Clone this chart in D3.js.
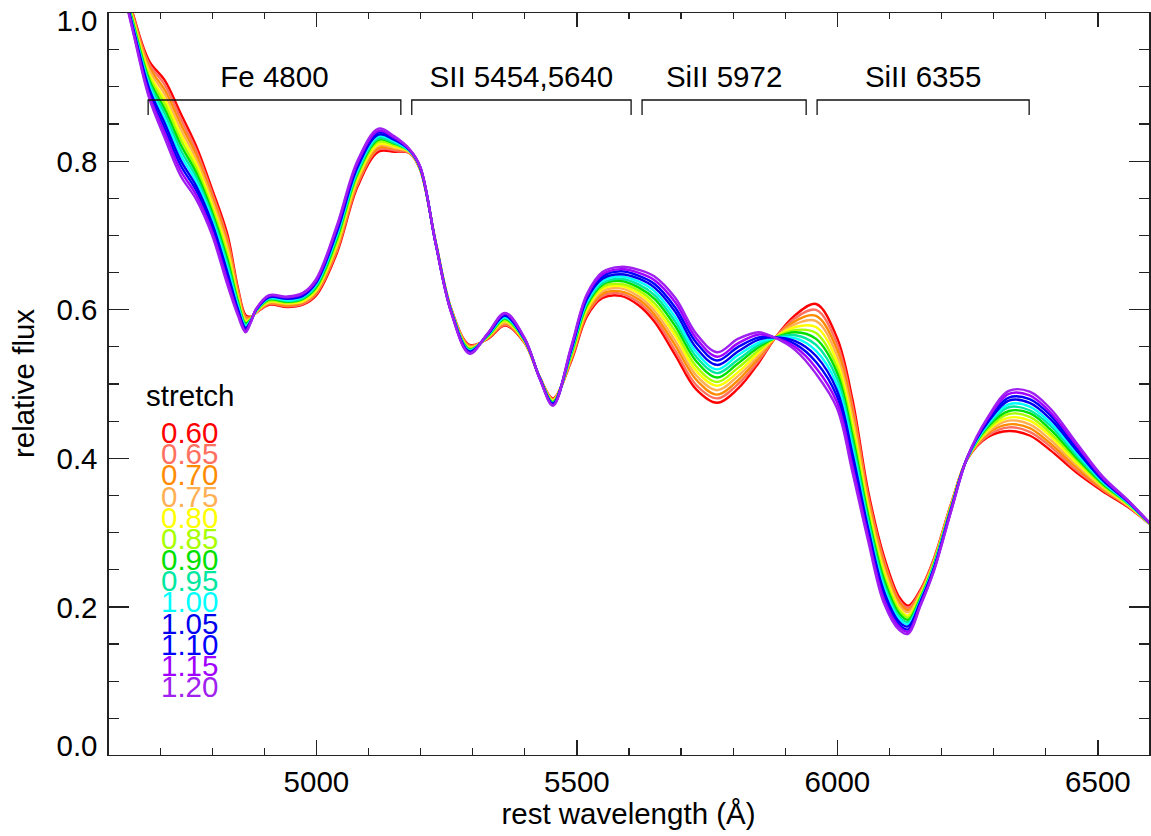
<!doctype html>
<html lang="en">
  <head>
    <meta charset="UTF-8" />
    <title>Stretched template spectra</title>
    <script src="https://d3js.org/d3.v7.min.js"></script>
    <style>
      body {
        margin: 0;
        padding: 0;
        background: #fff;
      }
      svg text {
        font-family: 'Liberation Sans', Arial, Helvetica, sans-serif;
        font-size: 29.5px;
        fill: #000;
      }
      .axis path,
      .axis line {
        fill: none;
        stroke: #222;
        stroke-width: 1.2px;
        shape-rendering: crispEdges;
      }
      .spec {
        fill: none;
        stroke-width: 2.4px;
      }
      .bracket {
        fill: none;
        stroke: #111;
        stroke-width: 1.3px;
      }
    </style>
  </head>
  <body>
    <svg id="chart" width="1151" height="836"></svg>

    <script>
      // rest wavelength grid (Angstrom)
      const wavelength = [4620, 4650, 4680, 4710, 4740, 4770, 4800, 4830, 4850, 4865, 4875,
        4885, 4910, 4945, 4975, 5000, 5040, 5080, 5120, 5150, 5180,
        5200, 5230, 5260, 5295, 5330, 5363, 5400, 5430, 5455, 5490,
        5520, 5550, 5585, 5620, 5650, 5690, 5730, 5770, 5810, 5850,
        5880, 5920, 5960, 6000, 6030, 6060, 6090, 6120, 6137, 6160,
        6185, 6220, 6250, 6290, 6330, 6370, 6410, 6460, 6510, 6560, 6610];

      // relative flux, one array per stretch value
      const flux060 = [1.075,.995,.934,.908,.864,.820,.763,.701,.630,.592,.590,.595,.606,.603,.606,.618,.675,.765,.812,.812,.810,.788,.690,.600,.552,.560,.578,.555,.508,.480,.530,.590,.615,.618,.605,.583,.538,.492,.474,.493,.528,.560,.592,.607,.562,.478,.355,.268,.212,.201,.222,.262,.340,.398,.428,.436,.430,.410,.380,.355,.333,.305];
      const flux065 = [1.074,.993,.930,.902,.857,.814,.758,.695,.627,.590,.589,.595,.607,.604,.607,.620,.678,.768,.815,.814,.810,.788,.690,.600,.551,.561,.579,.556,.508,.479,.532,.593,.618,.621,.609,.588,.544,.498,.480,.499,.531,.560,.588,.599,.554,.470,.349,.263,.208,.198,.220,.261,.339,.398,.430,.441,.435,.415,.383,.357,.334,.305];
      const flux070 = [1.073,.991,.926,.895,.850,.808,.753,.690,.624,.588,.589,.596,.608,.605,.609,.622,.681,.771,.817,.816,.811,.789,.690,.599,.550,.561,.581,.556,.508,.478,.533,.595,.621,.624,.613,.593,.551,.505,.485,.504,.535,.560,.584,.591,.546,.462,.344,.258,.205,.195,.218,.259,.338,.398,.433,.445,.440,.419,.387,.358,.335,.305];
      const flux075 = [1.071,.989,.922,.889,.843,.802,.748,.684,.620,.586,.588,.596,.609,.607,.610,.624,.684,.774,.820,.817,.811,.789,.690,.599,.549,.562,.582,.557,.508,.478,.535,.598,.624,.628,.617,.598,.557,.511,.491,.510,.538,.561,.580,.584,.538,.454,.338,.252,.201,.192,.217,.258,.338,.399,.435,.450,.445,.424,.390,.360,.335,.305];
      const flux080 = [1.070,.987,.917,.882,.836,.796,.742,.678,.617,.584,.587,.597,.610,.608,.611,.625,.687,.777,.822,.819,.812,.789,.689,.598,.548,.563,.584,.557,.507,.477,.537,.600,.627,.631,.621,.603,.564,.517,.497,.515,.542,.561,.576,.576,.530,.445,.333,.247,.197,.188,.215,.256,.337,.399,.437,.454,.450,.429,.393,.362,.336,.305];
      const flux085 = [1.069,.985,.913,.876,.829,.790,.737,.673,.614,.582,.587,.597,.611,.609,.613,.627,.690,.780,.825,.821,.812,.790,.689,.598,.547,.563,.585,.558,.507,.476,.538,.603,.630,.634,.625,.608,.570,.523,.502,.521,.545,.561,.572,.568,.522,.437,.327,.242,.194,.185,.213,.255,.336,.399,.439,.459,.455,.433,.397,.363,.337,.305];
      const flux090 = [1.068,.983,.909,.869,.822,.784,.732,.667,.611,.581,.586,.598,.613,.610,.614,.629,.694,.783,.828,.823,.813,.790,.689,.598,.546,.564,.587,.559,.507,.475,.540,.605,.633,.638,.629,.614,.577,.530,.508,.527,.549,.561,.569,.560,.515,.429,.322,.237,.190,.182,.211,.254,.335,.399,.442,.463,.460,.438,.400,.365,.338,.305];
      const flux095 = [1.066,.980,.905,.863,.815,.778,.727,.661,.608,.579,.585,.598,.614,.611,.615,.631,.697,.785,.830,.824,.813,.790,.689,.597,.545,.565,.588,.559,.507,.474,.542,.608,.635,.641,.633,.619,.583,.536,.514,.532,.552,.561,.565,.552,.507,.421,.316,.231,.186,.179,.209,.252,.334,.399,.444,.468,.464,.443,.403,.367,.338,.305];
      const flux100 = [1.065,.978,.901,.856,.808,.772,.722,.656,.605,.577,.585,.598,.615,.612,.617,.633,.700,.788,.833,.826,.813,.791,.689,.597,.544,.565,.589,.560,.507,.473,.543,.610,.638,.644,.637,.624,.589,.542,.519,.538,.555,.561,.561,.544,.499,.413,.310,.226,.183,.176,.207,.251,.333,.399,.446,.472,.469,.447,.407,.368,.339,.305];
      const flux105 = [1.064,.976,.897,.850,.801,.766,.717,.650,.601,.575,.584,.599,.616,.614,.618,.635,.703,.791,.835,.828,.814,.791,.688,.596,.543,.566,.591,.560,.507,.473,.545,.613,.641,.647,.641,.629,.596,.548,.525,.543,.559,.562,.557,.537,.491,.405,.305,.221,.179,.173,.206,.249,.333,.400,.448,.477,.474,.452,.410,.370,.340,.305];
      const flux110 = [1.063,.974,.892,.843,.794,.760,.711,.644,.598,.573,.583,.599,.617,.615,.619,.636,.706,.794,.838,.830,.814,.791,.688,.596,.542,.567,.592,.561,.506,.472,.547,.615,.644,.651,.645,.634,.602,.555,.531,.549,.562,.562,.553,.529,.483,.396,.299,.216,.175,.169,.204,.248,.332,.400,.451,.481,.479,.457,.413,.372,.341,.305];
      const flux115 = [1.061,.972,.888,.837,.787,.754,.706,.639,.595,.571,.583,.600,.618,.616,.621,.638,.709,.797,.840,.831,.815,.792,.688,.595,.541,.567,.594,.561,.506,.471,.548,.618,.647,.654,.649,.639,.609,.561,.536,.554,.566,.562,.549,.521,.475,.388,.294,.210,.172,.166,.202,.246,.331,.400,.453,.486,.484,.461,.417,.373,.341,.305];
      const flux120 = [1.060,.970,.884,.830,.780,.748,.701,.633,.592,.569,.582,.600,.619,.617,.622,.640,.712,.800,.843,.833,.815,.792,.688,.595,.540,.568,.595,.562,.506,.470,.550,.620,.650,.657,.653,.644,.615,.567,.542,.560,.569,.562,.545,.513,.467,.380,.288,.205,.168,.163,.200,.245,.330,.400,.455,.490,.489,.466,.420,.375,.342,.305];

      const stretchLabels = ['0.60', '0.65', '0.70', '0.75', '0.80', '0.85', '0.90',
        '0.95', '1.00', '1.05', '1.10', '1.15', '1.20'];
      const stretchColors = ['#ff0000', '#ff7060', '#ff8c00', '#ffb055', '#ffff00', '#a8ff00', '#00e000',
        '#00e8a0', '#00ffff', '#0000ee', '#0000ff', '#a000ff', '#a020f0'];
      const fluxSeries = [flux060, flux065, flux070, flux075, flux080, flux085, flux090,
        flux095, flux100, flux105, flux110, flux115, flux120];

      // line identifications, start and end in Angstrom
      const featureNames = ['Fe 4800', 'SII 5454,5640', 'SiII 5972', 'SiII 6355'];
      const featureStart = [4678, 5184, 5626, 5962];
      const featureEnd = [5163, 5605, 5941, 6369];

      const xMajorTicks = [5000, 5500, 6000, 6500];
      const xMinorTicks = d3.range(4600, 6601, 100);
      const yMajorTicks = [0, 0.2, 0.4, 0.6, 0.8, 1.0];
      const yMinorTicks = d3.range(0, 1.001, 0.05);

      const plotLeft = 107.5, plotRight = 1149.5, plotTop = 12, plotBottom = 755;

      const svg = d3.select('#chart');

      const x = d3.scaleLinear().domain([4600, 6600]).range([plotLeft, plotRight]);
      const y = d3.scaleLinear().domain([0, 1]).range([plotBottom, plotTop]);

      svg.append('defs').append('clipPath').attr('id', 'plotclip')
        .append('rect')
        .attr('x', plotLeft).attr('y', plotTop)
        .attr('width', plotRight - plotLeft).attr('height', plotBottom - plotTop);

      // spectra
      const line = d3.line()
        .x((d, i) => x(wavelength[i]))
        .y((d) => y(d))
        .curve(d3.curveCatmullRom.alpha(0.5));

      svg.append('g')
        .attr('clip-path', 'url(#plotclip)')
        .selectAll('path')
        .data(fluxSeries)
        .enter()
        .append('path')
        .attr('class', 'spec')
        .attr('stroke', (d, i) => stretchColors[i])
        .attr('d', line);

      // axes: ticks point inward on all four sides
      const fmt = d3.format('.1f');
      svg.append('g').attr('class', 'axis')
        .attr('transform', `translate(${plotLeft},0)`)
        .call(d3.axisLeft(y).tickValues(yMinorTicks).tickSize(-11).tickFormat('').tickSizeOuter(0));
      const yAxis = svg.append('g').attr('class', 'axis')
        .attr('transform', `translate(${plotLeft},0)`)
        .call(d3.axisLeft(y).tickValues(yMajorTicks).tickSize(-21).tickPadding(10).tickFormat(fmt).tickSizeOuter(0));
      yAxis.selectAll('text')
        .attr('dy', (d) => (d === 1 ? '0.63em' : d === 0 ? '0em' : '0.36em'));

      svg.append('g').attr('class', 'axis')
        .attr('transform', `translate(${plotRight},0)`)
        .call(d3.axisRight(y).tickValues(yMinorTicks).tickSize(-11).tickFormat('').tickSizeOuter(0));
      svg.append('g').attr('class', 'axis')
        .attr('transform', `translate(${plotRight},0)`)
        .call(d3.axisRight(y).tickValues(yMajorTicks).tickSize(-21).tickFormat('').tickSizeOuter(0));

      svg.append('g').attr('class', 'axis')
        .attr('transform', `translate(0,${plotBottom})`)
        .call(d3.axisBottom(x).tickValues(xMinorTicks).tickSize(-7).tickFormat('').tickSizeOuter(0));
      svg.append('g').attr('class', 'axis')
        .attr('transform', `translate(0,${plotBottom})`)
        .call(d3.axisBottom(x).tickValues(xMajorTicks).tickSize(-15).tickPadding(16).tickFormat(d3.format('d')).tickSizeOuter(0));

      svg.append('g').attr('class', 'axis')
        .attr('transform', `translate(0,${plotTop})`)
        .call(d3.axisTop(x).tickValues(xMinorTicks).tickSize(-7).tickFormat('').tickSizeOuter(0));
      svg.append('g').attr('class', 'axis')
        .attr('transform', `translate(0,${plotTop})`)
        .call(d3.axisTop(x).tickValues(xMajorTicks).tickSize(-15).tickFormat('').tickSizeOuter(0));

      svg.selectAll('.axis text').style('font-size', '29.5px')
        .style('font-family', "'Liberation Sans', Arial, sans-serif");

      // axis titles
      svg.append('text')
        .attr('x', (plotLeft + plotRight) / 2)
        .attr('y', 824)
        .attr('text-anchor', 'middle')
        .text('rest wavelength (Å)');

      svg.append('text')
        .attr('transform', `translate(34,${(plotTop + plotBottom) / 2}) rotate(-90)`)
        .attr('text-anchor', 'middle')
        .text('relative flux');

      // feature brackets
      const brackets = svg.append('g');
      featureNames.forEach(function (name, i) {
        const x0 = x(featureStart[i]);
        const x1 = x(featureEnd[i]);
        brackets.append('path')
          .attr('class', 'bracket')
          .attr('d', `M${x0},115V100H${x1}V115`);
        brackets.append('text')
          .attr('x', (x0 + x1) / 2)
          .attr('y', 87)
          .attr('text-anchor', 'middle')
          .text(name);
      });

      // legend
      const legend = svg.append('g');
      legend.append('text')
        .attr('x', 146)
        .attr('y', 406)
        .text('stretch');
      legend.selectAll('.lab')
        .data(stretchLabels)
        .enter()
        .append('text')
        .attr('class', 'lab')
        .attr('x', 161)
        .attr('y', (d, i) => 443 + i * 21.17)
        .style('fill', (d, i) => stretchColors[i])
        .text((d) => d);
    </script>
  </body>
</html>
